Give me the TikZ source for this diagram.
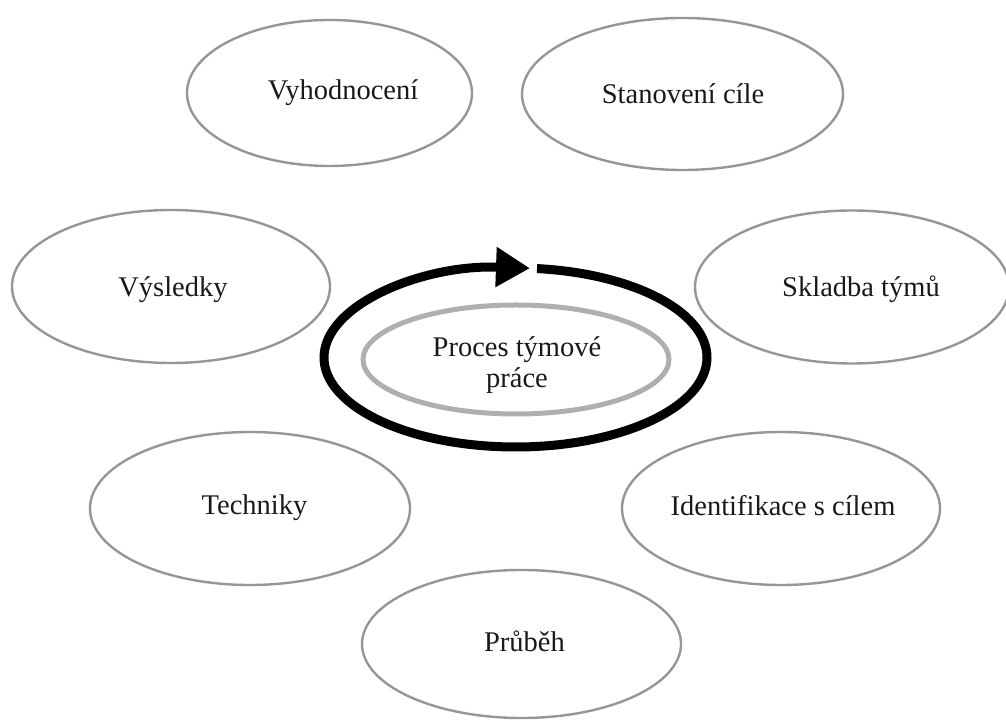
\documentclass[tikz,border=0pt]{standalone}
\usepackage{fontspec}
\setmainfont{Liberation Serif}
\usetikzlibrary{shapes.geometric,arrows.meta,calc}
\definecolor{bubgray}{RGB}{150,150,150}
\definecolor{innergray}{RGB}{175,175,175}
\definecolor{txtc}{RGB}{25,25,25}
\tikzset{
  bub/.style={shape=ellipse, draw=bubgray, line width=2.4pt, inner sep=0pt},
  lbl/.style={anchor=base, inner sep=0pt, text=txtc, font=\fontsize{28.5}{31}\selectfont},
}
\begin{document}
\begin{tikzpicture}[x=1pt,y=1pt]
\useasboundingbox (0,0) rectangle (1006,720);
% outer bubbles
\node[bub, minimum width=285pt, minimum height=146pt] (vyh) at (329.5,627) {};
\node[lbl] (vyht) at (343,620) {Vyhodnocení};
\node[bub, minimum width=321pt, minimum height=152pt] (stan) at (682.5,626) {};
\node[lbl] (stant) at (683,616) {Stanovení cíle};
\node[bub, minimum width=318pt, minimum height=153pt] (vys) at (171,433.5) {};
\node[lbl] (vyst) at (173,423) {Výsledky};
\node[bub, minimum width=314pt, minimum height=153pt] (skl) at (852,433) {};
\node[lbl] (sklt) at (861,423) {Skladba týmů};
\node[bub, minimum width=320pt, minimum height=153pt] (tech) at (250,211.5) {};
\node[lbl] (techt) at (254.5,205) {Techniky};
\node[bub, minimum width=318pt, minimum height=153pt] (iden) at (781,211.5) {};
\node[lbl] (ident) at (783,204) {Identifikace s cílem};
\node[bub, minimum width=319pt, minimum height=148pt] (prub) at (521.5,76) {};
\node[lbl] (prubt) at (524.5,68) {Průběh};
% centre
\node[shape=ellipse, draw=innergray, line width=5pt, inner sep=0pt,
      minimum width=306pt, minimum height=109pt] (proc) at (516,360.5) {};
\node[lbl] (proct1) at (517,363) {Proces týmové};
\node[lbl] (proct2) at (517,332) {práce};
% cycle arrow
\coordinate (ringc) at (515.5,362.5);
\coordinate (ringstart) at ($(ringc)+(83.55:191.5 and 89.5)$);
\draw[line width=9pt, -{Triangle[length=34pt,width=38pt]}]
  (ringstart) arc[start angle=83.55, end angle=-274.34, x radius=191.5, y radius=89.5];
\end{tikzpicture}
\end{document}
